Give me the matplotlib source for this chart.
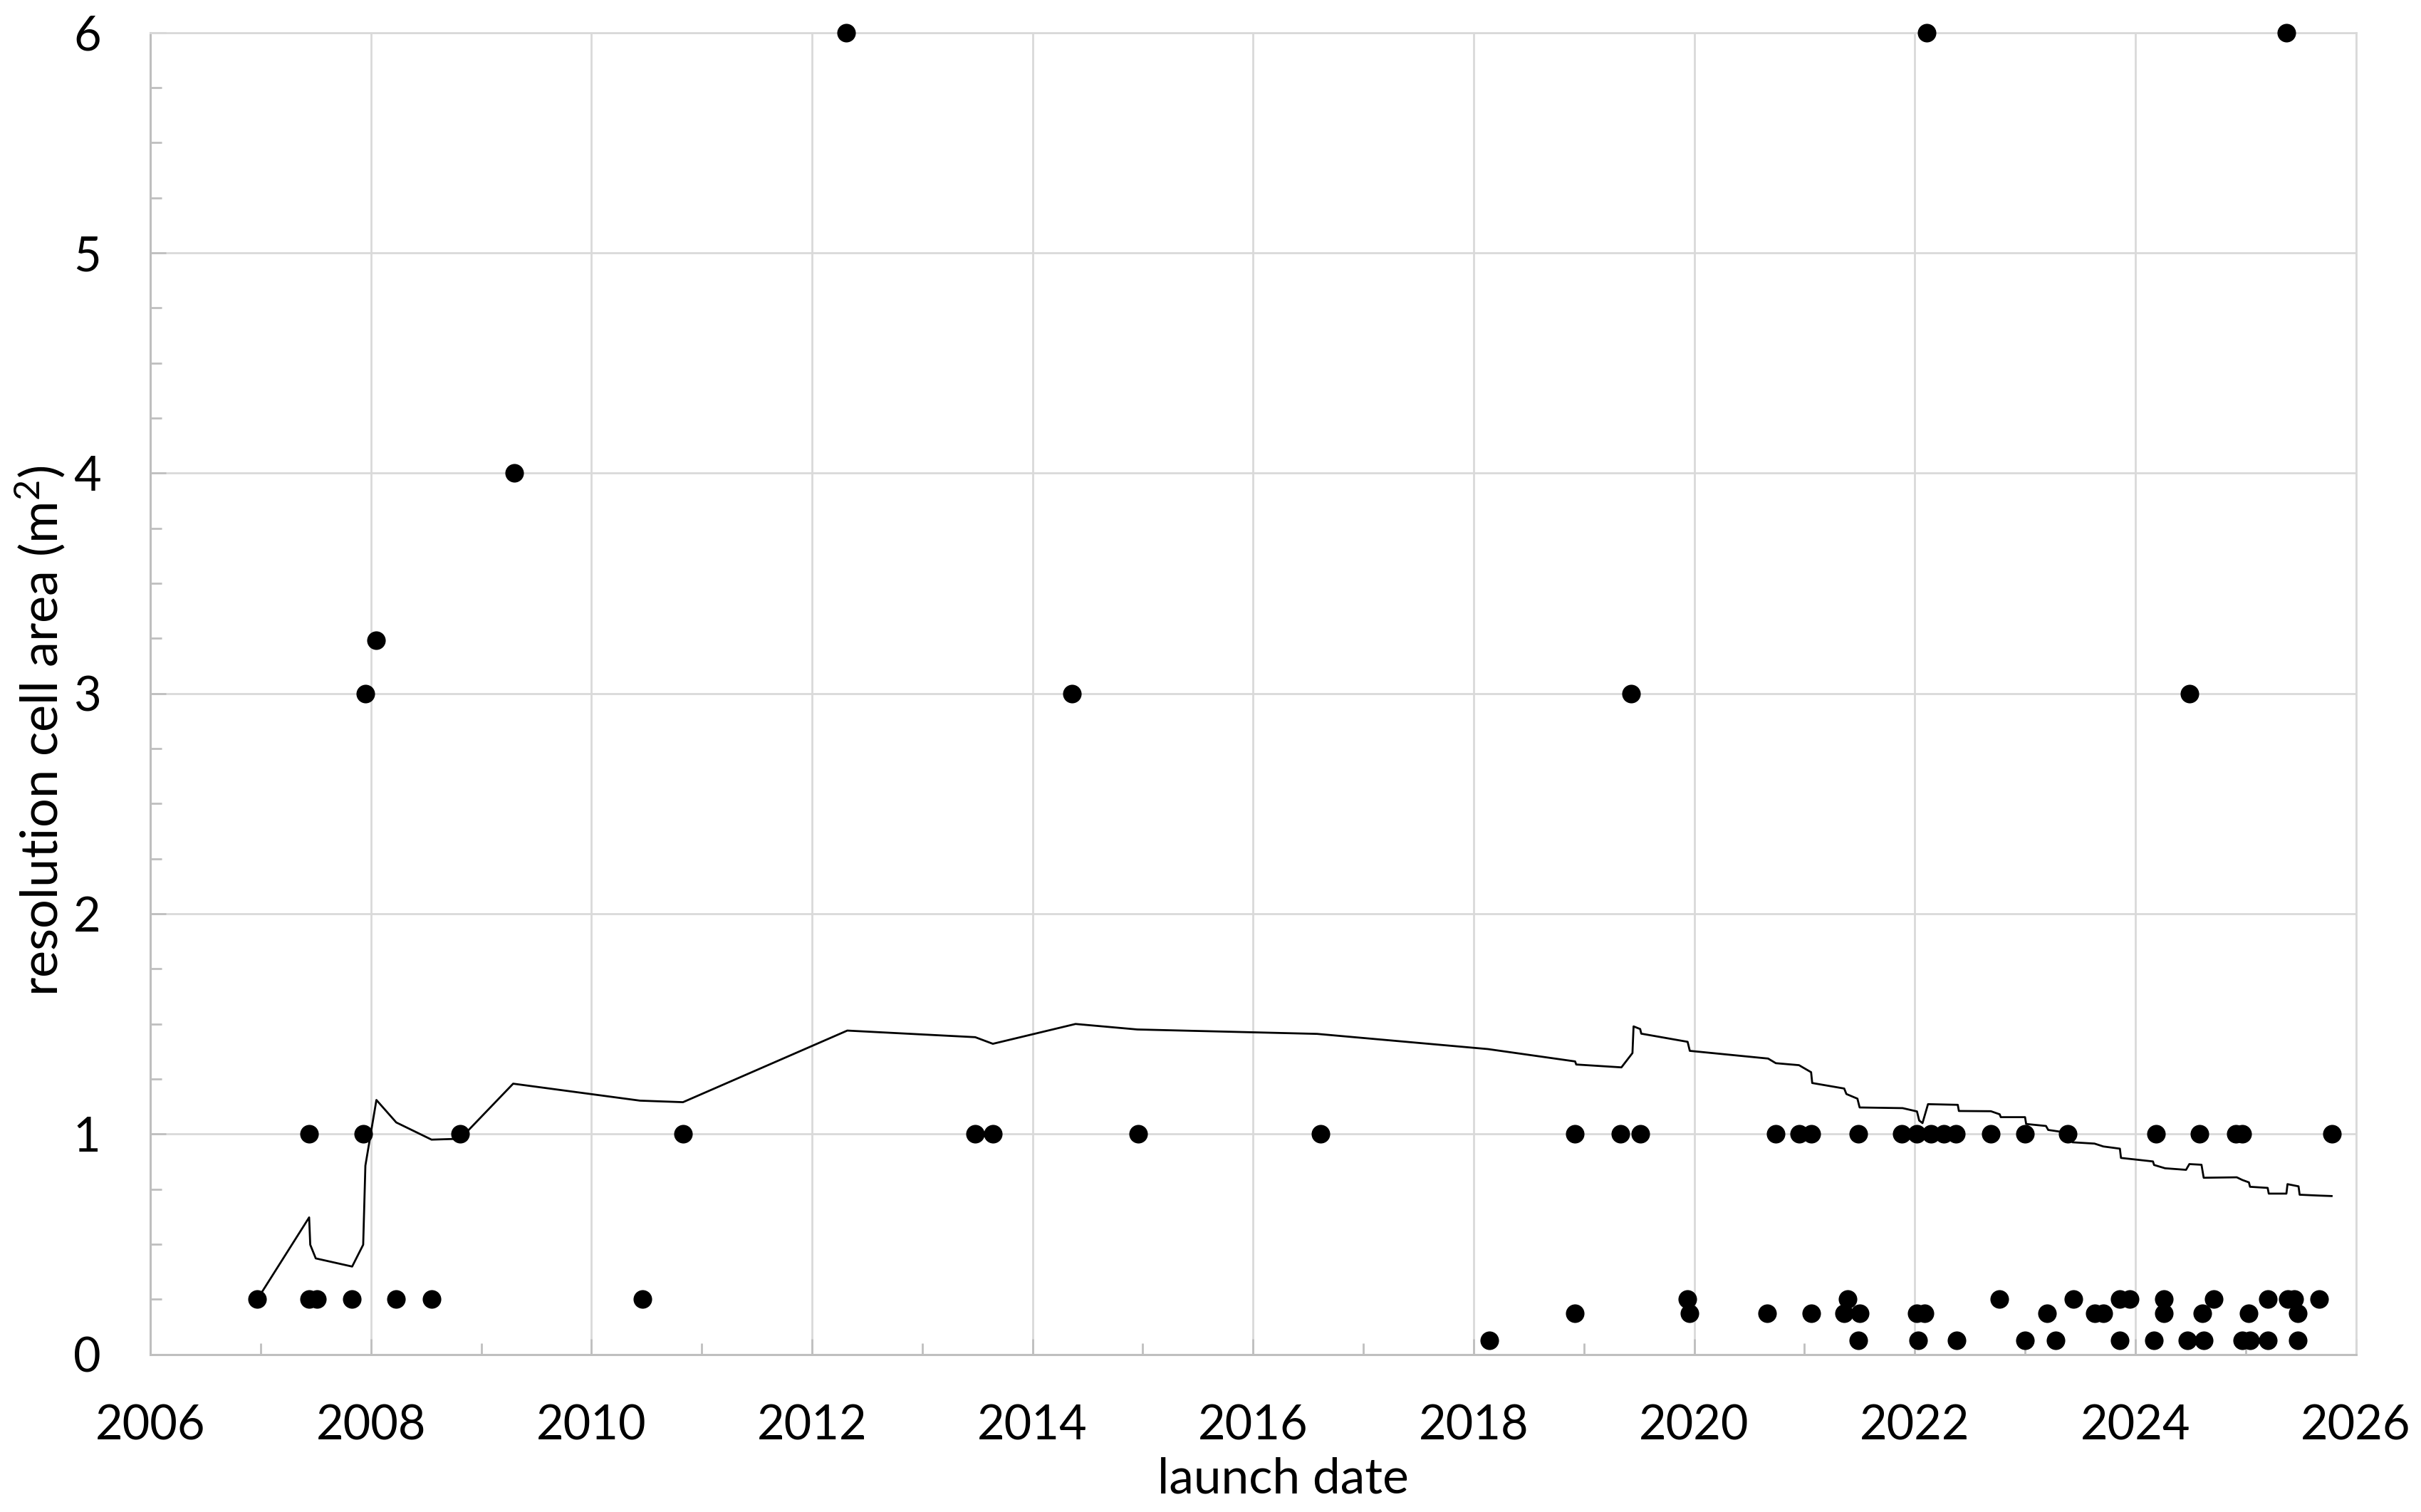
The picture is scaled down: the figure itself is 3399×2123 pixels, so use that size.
import matplotlib
matplotlib.use("Agg")
import matplotlib.pyplot as plt
from matplotlib.ticker import MultipleLocator

plt.rcParams['font.family'] = ['Lato', 'DejaVu Sans']
plt.rcParams['mathtext.fontset'] = 'custom'
plt.rcParams['mathtext.rm'] = 'Lato'
plt.rcParams['mathtext.it'] = 'Lato:italic'
plt.rcParams['mathtext.bf'] = 'Lato:bold'

# launch date (decimal year) and resolution cell area (m2) of each system
launch_year = [
    2006.97, 2007.44, 2007.51, 2007.83, 2008.23, 2008.55, 2010.46,
    2007.44, 2007.93, 2008.81, 2010.83,
    2007.95, 2008.05, 2009.30, 2012.31,
    2013.48, 2013.64, 2014.96, 2016.61, 2014.36,
    2018.14, 2018.92, 2019.33, 2019.51, 2018.92, 2019.96, 2019.94, 2019.43,
    2020.74, 2020.95, 2021.06, 2021.49, 2021.88, 2022.02, 2022.15, 2022.26, 2022.37,
    2021.39,
    2020.66, 2021.06, 2021.36, 2021.50, 2022.02, 2022.09,
    2021.49, 2022.03, 2022.38,
    2022.11,
    2022.69, 2023.00, 2023.39, 2024.19, 2024.58, 2024.91, 2024.97, 2025.78,
    2022.77, 2023.44, 2023.86, 2023.95, 2024.26, 2024.71, 2025.20, 2025.38, 2025.44, 2025.67,
    2023.20, 2023.63, 2023.71, 2024.26, 2024.61, 2025.03, 2025.47,
    2023.00, 2023.28, 2023.86, 2024.17, 2024.47, 2024.62, 2024.97, 2025.04, 2025.20, 2025.47,
    2024.49, 2025.37,
]
cell_area = [
    0.25, 0.25, 0.25, 0.25, 0.25, 0.25, 0.25,
    1, 1, 1, 1,
    3, 3.24, 4, 6,
    1, 1, 1, 1, 3,
    0.0625, 1, 1, 1, 0.1875, 0.1875, 0.25, 3,
    1, 1, 1, 1, 1, 1, 1, 1, 1,
    0.25,
    0.1875, 0.1875, 0.1875, 0.1875, 0.1875, 0.1875,
    0.0625, 0.0625, 0.0625,
    6,
    1, 1, 1, 1, 1, 1, 1, 1,
    0.25, 0.25, 0.25, 0.25, 0.25, 0.25, 0.25, 0.25, 0.25, 0.25,
    0.1875, 0.1875, 0.1875, 0.1875, 0.1875, 0.1875, 0.1875,
    0.0625, 0.0625, 0.0625, 0.0625, 0.0625, 0.0625, 0.0625, 0.0625, 0.0625, 0.0625,
    3, 6,
]

# trend line
trend_year = [
    2006.97, 2007.44, 2007.45, 2007.50, 2007.83, 2007.93, 2007.95, 2008.05,
    2008.23, 2008.55, 2008.81, 2009.29, 2010.44, 2010.83, 2012.32, 2013.48,
    2013.64, 2014.39, 2014.95, 2016.58, 2018.13, 2018.92, 2018.93, 2019.34,
    2019.44, 2019.45, 2019.51, 2019.52, 2019.94, 2019.96, 2020.67, 2020.74,
    2020.95, 2021.06, 2021.07, 2021.36, 2021.38, 2021.48, 2021.50, 2021.89,
    2022.02, 2022.04, 2022.07, 2022.12, 2022.39, 2022.40, 2022.69, 2022.77,
    2022.78, 2023.00, 2023.01, 2023.19, 2023.21, 2023.39, 2023.43, 2023.63,
    2023.71, 2023.86, 2023.87, 2024.16, 2024.17, 2024.27, 2024.46, 2024.49,
    2024.60, 2024.62, 2024.92, 2024.97, 2025.03, 2025.04, 2025.20, 2025.21,
    2025.37, 2025.38, 2025.48, 2025.49, 2025.67, 2025.78,
]
trend_area = [
    0.250, 0.622, 0.498, 0.436, 0.399, 0.498, 0.857, 1.155,
    1.053, 0.975, 0.979, 1.229, 1.152, 1.145, 1.470, 1.440,
    1.410, 1.500, 1.475, 1.455, 1.386, 1.330, 1.316, 1.303,
    1.368, 1.489, 1.477, 1.456, 1.419, 1.378, 1.343, 1.322,
    1.313, 1.281, 1.232, 1.207, 1.182, 1.161, 1.121, 1.118,
    1.103, 1.062, 1.050, 1.136, 1.133, 1.105, 1.104, 1.090,
    1.077, 1.077, 1.046, 1.037, 1.019, 1.006, 0.963, 0.957,
    0.944, 0.934, 0.892, 0.876, 0.860, 0.845, 0.838, 0.864,
    0.861, 0.802, 0.804, 0.792, 0.781, 0.761, 0.756, 0.730,
    0.730, 0.773, 0.763, 0.725, 0.721, 0.719,
]

grid_c = '#d9d9d9'
axis_c = '#bfbfbf'

fig = plt.figure(figsize=(16.995, 10.615), dpi=200)
ax = fig.add_axes([0.0621, 0.1042, 0.9110, 0.8743])

ax.plot(trend_year, trend_area, color='black', lw=1.0, zorder=3)
ax.plot(launch_year, cell_area, 'o', color='black', markersize=9.4,
        markeredgewidth=0, zorder=4, clip_on=False)

ax.set_xlim(2006, 2026)
ax.set_ylim(0, 6)
ax.xaxis.set_major_locator(MultipleLocator(2))
ax.xaxis.set_minor_locator(MultipleLocator(1))
ax.yaxis.set_major_locator(MultipleLocator(1))
ax.yaxis.set_minor_locator(MultipleLocator(0.25))
ax.xaxis.set_major_formatter(plt.FuncFormatter(lambda v, p: f'{int(round(v))}'))

ax.grid(True, which='major', color=grid_c, lw=1.0, zorder=0)
ax.set_axisbelow(True)

for s in ['left', 'bottom']:
    ax.spines[s].set_color(axis_c)
    ax.spines[s].set_linewidth(1.1)
for s in ['top', 'right']:
    ax.spines[s].set_color(grid_c)
    ax.spines[s].set_linewidth(1.0)

ax.tick_params(which='major', direction='in', length=8, width=1.0, color=axis_c,
               labelsize=24, pad=25, labelcolor='black')
ax.tick_params(which='minor', direction='in', length=5.8, width=1.0, color=axis_c)

ax.set_xlabel('launch date', fontsize=25)
ax.set_ylabel('resolution cell area (m$^2$)', fontsize=26)
ax.xaxis.set_label_coords(0.5136, -0.0945)
ax.xaxis.label.set_va('center')
ax.yaxis.set_label_coords(-0.050, 0.472)
ax.yaxis.label.set_va('center')

fig.savefig('out.png', dpi=200)
